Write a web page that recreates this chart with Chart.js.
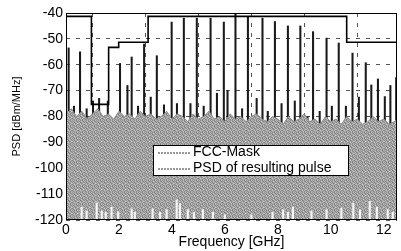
<!DOCTYPE html>
<html><head><meta charset="utf-8">
<script src="https://cdn.jsdelivr.net/npm/chart.js@4/dist/chart.umd.min.js"></script>
<style>html,body{margin:0;padding:0;background:#fff;}#wrap{width:401px;height:251px;}</style>
</head><body><div id="wrap"><canvas id="c" width="401" height="251"></canvas></div>
<script>
// ---- data ----
const xTicks = [0, 2, 4, 6, 8, 10, 12];
const yTicks = [-120, -110, -100, -90, -80, -70, -60, -50, -40];

const maskFreq  = [0, 0.96, 1.61, 1.99, 3.1, 10.6, 12.5];
const maskLevel = [-41.3, -75.3, -53.3, -51.3, -41.3, -51.3, -51.3];

// upper edge of the dense noise floor of the pulse PSD
const noiseFreq = [0,0.2,0.4,0.6,0.8,1.0,1.2,1.4,1.6,1.8,
  2.0,2.2,2.4,2.6,2.8,3.0,3.2,3.4,3.6,3.8,
  4.0,4.2,4.4,4.6,4.8,5.0,5.2,5.4,5.6,5.8,
  6.0,6.2,6.4,6.6,6.8,7.0,7.2,7.4,7.6,7.8,
  8.0,8.2,8.4,8.6,8.8,9.0,9.2,9.4,9.6,9.8,
  10.0,10.2,10.4,10.6,10.8,11.0,11.2,11.4,11.6,11.8,
  12.0,12.2,12.4,12.5];
const noiseTop = [-79,-77,-80,-78,-81,-79,-77,-80,-79,-81,
  -78,-80,-79,-81,-78,-80,-79,-81,-80,-78,
  -81,-79,-80,-82,-79,-81,-80,-78,-81,-80,
  -82,-79,-81,-80,-82,-80,-79,-81,-82,-80,
  -81,-83,-80,-82,-81,-79,-82,-81,-83,-80,
  -82,-81,-83,-80,-82,-81,-83,-82,-80,-82,
  -81,-83,-82,-81];

// spectral lines of the pulse PSD (GHz, peak dBm/MHz)
const lineFreq = [0.1,0.3,0.53,0.78,1.02,1.25,1.58,2.04,2.32,2.48,2.72,2.95,3.2,3.43,3.7,3.99,
  4.19,4.45,4.7,4.94,5.2,5.46,5.7,5.96,6.1,6.4,6.65,6.87,7.2,7.42,7.62,7.89,8.14,8.38,
  8.64,8.85,9.12,9.33,9.58,9.84,10.04,10.3,10.57,10.82,11.06,11.32,11.53,11.78,12.04,12.25,12.47];
const lineTop = [-53.5,-76,-55,-77,-74,-73,-74,-59.5,-68,-57,-76,-52,-72.5,-56.5,-75.5,-43.5,
  -75,-42,-75,-42,-76,-42,-71,-43.5,-70,-40.5,-77,-41.5,-73,-42,-78,-43.3,-75,-45,
  -74,-45,-80,-47.2,-78,-49.7,-76,-51.6,-76,-55.5,-72.5,-59.2,-67.8,-65.5,-72.3,-68,-65];

// deep notches of the PSD near the bottom of the plot
const dipFreq = [0.59,0.78,1.16,1.35,1.5,1.72,1.97,2.48,2.6,3.27,3.55,3.8,4.18,4.3,4.6,4.83,5.17,5.55,
  6.0,7.0,7.8,8.2,8.38,8.57,9.27,9.84,10.4,10.85,11.1,11.47,11.74,12.15,12.34];
const dipTop = [-115,-116.5,-113.4,-116.5,-117,-115,-116.8,-115.7,-117,-115.7,-117,-116,-112.2,-113.6,-116,-117,-116,-117,
  -118,-118,-117,-116,-117,-115,-116.5,-116,-115.5,-113.5,-116,-112.8,-115,-116,-117];

const labels = { mask: 'FCC-Mask', psd: 'PSD of resulting pulse', x: 'Frequency [GHz]', y: 'PSD [dBm/MHz]' };
const Y_MIN = -120, Y_MAX = -40, X_MIN = 0, X_MAX = 12.5;

// fixed speckle texture for the noise area (style only)
function makeTexture() {
  const shades = [
    [150,185,140,170,125,190],
    [175,130,160,200,150,135],
    [140,195,120,155,180,160],
    [185,150,175,135,145,205],
    [130,165,200,150,190,140],
    [170,140,150,185,130,175]
  ];
  const c = document.createElement('canvas');
  c.width = 6; c.height = 6;
  const g = c.getContext('2d');
  shades.forEach((row, r) => row.forEach((v, k) => {
    g.fillStyle = `rgb(${v},${v},${v})`;
    g.fillRect(k, r, 1, 1);
  }));
  return g.createPattern(c, 'repeat');
}

// ---- plugins ----
const framePlugin = {
  id: 'frame',
  afterDatasetsDraw(chart) {
    const {ctx, chartArea: a} = chart;
    ctx.save();
    ctx.strokeStyle = '#000';
    ctx.lineWidth = 1;
    ctx.strokeRect(Math.round(a.left) + 0.5, Math.round(a.top) + 0.5,
                   Math.round(a.right - a.left) - 1, Math.round(a.bottom - a.top) - 1);
    ctx.restore();
  }
};

const boxLegend = {
  id: 'boxLegend',
  afterDraw(chart, args, opts) {
    const {ctx} = chart;
    const b = opts.box;
    ctx.save();
    ctx.fillStyle = '#fff';
    ctx.fillRect(b.x, b.y, b.w, b.h);
    ctx.strokeStyle = '#000';
    ctx.lineWidth = 1;
    ctx.strokeRect(b.x + 0.5, b.y + 0.5, b.w - 1, b.h - 1);
    ctx.font = opts.font;
    ctx.fillStyle = '#000';
    ctx.textBaseline = 'middle';
    opts.items.forEach((t, i) => {
      const yy = b.y + opts.firstRow + i * opts.rowGap;
      ctx.save();
      ctx.strokeStyle = '#333';
      ctx.setLineDash([2, 1]);
      ctx.beginPath();
      ctx.moveTo(b.x + opts.lineStart, yy + 0.5);
      ctx.lineTo(b.x + opts.lineEnd, yy + 0.5);
      ctx.stroke();
      ctx.restore();
      ctx.fillText(t, b.x + opts.textStart, yy);
    });
    ctx.restore();
  }
};

const FONT = "'Liberation Sans', Arial, sans-serif";
const texture = makeTexture();

new Chart(document.getElementById('c'), {
  type: 'bar',
  data: {
    datasets: [
      {
        type: 'line', label: labels.mask, order: 0,
        data: maskFreq.map((f, i) => ({x: f, y: maskLevel[i]})),
        borderColor: '#000', borderWidth: 1.6, pointRadius: 0, stepped: 'before', fill: false
      },
      {
        type: 'bar', label: 'dips', order: 1, grouped: false,
        data: dipFreq.map((f, i) => ({x: f, y: [Y_MIN, dipTop[i]]})),
        backgroundColor: '#f4f4f4', borderWidth: 0, barThickness: 1.5
      },
      {
        type: 'line', label: labels.psd, order: 2,
        data: noiseFreq.map((f, i) => ({x: f, y: noiseTop[i]})),
        borderColor: '#8a8a8a', borderWidth: 1, backgroundColor: texture,
        pointRadius: 0, fill: 'start', tension: 0
      },
      {
        type: 'bar', label: 'lines', order: 3, grouped: false,
        data: lineFreq.map((f, i) => ({x: f, y: [Y_MIN, lineTop[i]]})),
        backgroundColor: '#1a1a1a', borderWidth: 0, barThickness: 1.4
      }
    ]
  },
  options: {
    responsive: false,
    devicePixelRatio: 1,
    animation: false,
    events: [],
    layout: { padding: { left: 0, right: 4, top: 13, bottom: 0 } },
    scales: {
      x: {
        type: 'linear', min: X_MIN, max: X_MAX, offset: false,
        afterBuildTicks: s => { s.ticks = xTicks.map(v => ({value: v})); },
        afterFit: s => { s.height = 31; },
        grid: { color: '#555', lineWidth: 1, drawTicks: false },
        border: { display: false, dash: [4, 6] },
        ticks: { color: '#000', font: { family: FONT, size: 14 }, padding: 2, maxRotation: 0, autoSkip: false },
        title: { display: true, text: labels.x, color: '#000', font: { family: FONT, size: 14 }, padding: { top: 0, bottom: 0 } }
      },
      y: {
        type: 'linear', min: Y_MIN, max: Y_MAX,
        afterBuildTicks: s => { s.ticks = yTicks.map(v => ({value: v})); },
        afterFit: s => { s.width = 66; },
        grid: { color: '#555', lineWidth: 1, drawTicks: false },
        border: { display: false, dash: [4, 6] },
        ticks: { color: '#000', font: { family: FONT, size: 14 }, padding: 3, autoSkip: false },
        title: { display: true, text: labels.y, color: '#000', font: { family: FONT, size: 11 }, padding: { top: 10, bottom: 0 } }
      }
    },
    plugins: {
      legend: { display: false },
      tooltip: { enabled: false },
      boxLegend: {
        box: { x: 153, y: 145, w: 196, h: 31 },
        items: [labels.mask, labels.psd],
        font: "14px " + FONT,
        firstRow: 7.5, rowGap: 16, lineStart: 5, lineEnd: 37, textStart: 40
      }
    }
  },
  plugins: [framePlugin, boxLegend]
});
</script>
</body></html>
